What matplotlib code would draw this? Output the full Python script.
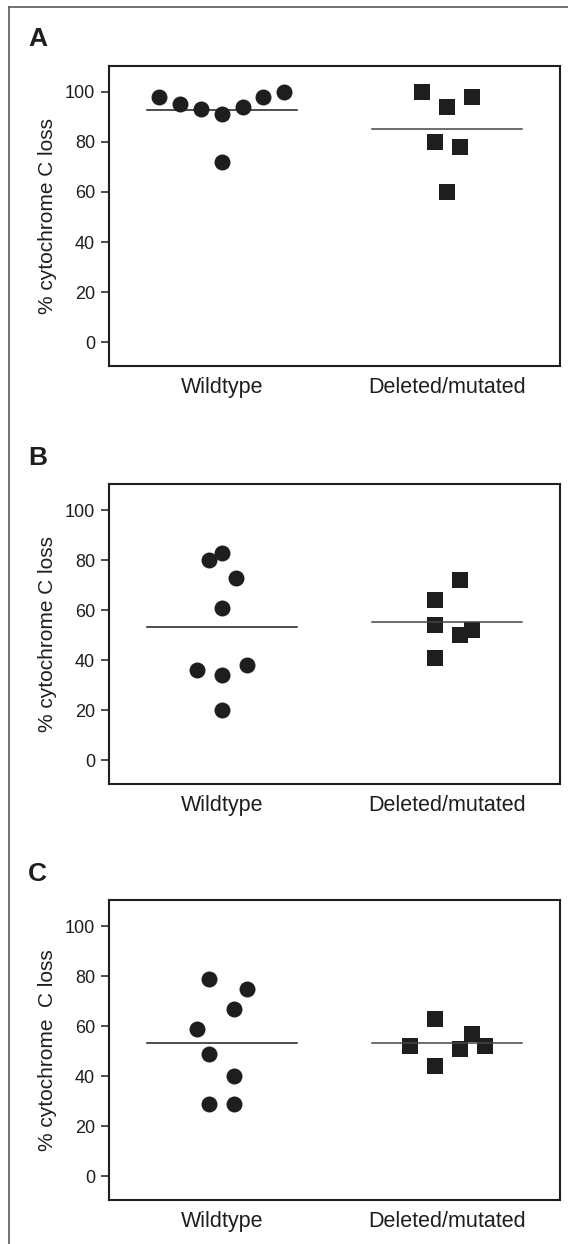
import numpy as np
import matplotlib
matplotlib.use("Agg")
import matplotlib.pyplot as plt
from matplotlib.lines import Line2D

# ============================================================ #
# Data (% cytochrome C loss)
# ============================================================ #
categories = ["Wildtype", "Deleted/mutated"]
panel_labels = ["A", "B", "C"]
y_labels = ["% cytochrome C loss", "% cytochrome C loss", "% cytochrome  C loss"]
y_ticks = [0, 20, 40, 60, 80, 100]

wildtype_a = [98, 95, 93, 91, 94, 98, 100, 72]
deleted_a = [100, 94, 98, 80, 78, 60]
wildtype_b = [80, 83, 73, 61, 36, 34, 38, 20]
deleted_b = [72, 64, 54, 50, 52, 41]
wildtype_c = [79, 75, 67, 59, 49, 40, 29, 29]
deleted_c = [63, 52, 57, 51, 52, 44]

# horizontal scatter slots (layout only, in units of SLOT)
SLOT = 0.0555
jitter_wt_a = [-5, -3.33, -1.67, 0, 1.67, 3.33, 5, 0]
jitter_del_a = [-2, 0, 2, -1, 1, 0]
jitter_wt_b = [-1, 0, 1.1, 0, -2, 0, 2, 0]
jitter_del_b = [1, -1, -1, 1, 2, -1]
jitter_wt_c = [-1, 2, 1, -2, -1, 1, -1, 1]
jitter_del_c = [-1, -3, 2, 1, 3, -1]

panels = [
    (wildtype_a, deleted_a, jitter_wt_a, jitter_del_a),
    (wildtype_b, deleted_b, jitter_wt_b, jitter_del_b),
    (wildtype_c, deleted_c, jitter_wt_c, jitter_del_c),
]

# ============================================================ #
# Figure layout (pixel geometry of the reference)
# ============================================================ #
W, H = 568, 1244
fig = plt.figure(figsize=(W / 100, H / 100), dpi=100)
plt.rcParams["font.family"] = ["Liberation Sans", "DejaVu Sans"]

INK = "#1e1e1e"
left, right = 109, 560
tops = [65.5, 484, 900]
bottoms = [366, 784, 1200]

# outer frame: only top and left edges are visible
fig.add_artist(Line2D([9 / W, 1], [1 - 7 / H, 1 - 7 / H], color="#5a5a5a", lw=1.2))
fig.add_artist(Line2D([9 / W, 9 / W], [0, 1 - 7 / H], color="#5a5a5a", lw=1.2))

for i, (wt, dm, jw, jd) in enumerate(panels):
    ax = fig.add_axes([left / W, 1 - bottoms[i] / H, (right - left) / W, (bottoms[i] - tops[i]) / H])

    # wildtype: circles, mean line underneath
    xw = 1 + np.array(jw) * SLOT
    ax.plot([1 - 0.333, 1 + 0.333], [np.mean(wt)] * 2, color=INK, lw=1.1, zorder=2)
    ax.plot(xw, wt, "o", ms=11.5, color=INK, mew=0, zorder=3)

    # deleted/mutated: squares, mean line drawn over
    xd = 2 + np.array(jd) * SLOT
    ax.plot(xd, dm, "s", ms=11.5, color=INK, mew=0, zorder=3)
    ax.plot([2 - 0.333, 2 + 0.333], [np.mean(dm)] * 2, color="#444444", lw=1.1, zorder=4)

    ax.set_xlim(0.5, 2.5)
    ax.set_ylim(-9.5, 110.5)
    ax.set_yticks(y_ticks)
    ax.set_xticks([1, 2])
    ax.set_xticklabels(categories, fontsize=15.5, color=INK)
    ax.tick_params(axis="x", length=0, pad=8)
    ax.tick_params(axis="y", length=6, width=1.1, color=INK, labelsize=13, labelcolor=INK, pad=4)
    for s in ax.spines.values():
        s.set_linewidth(1.5)
        s.set_color(INK)
    ax.set_ylabel(y_labels[i], fontsize=15, color=INK, labelpad=6)

    fig.text(28 / W, 1 - (tops[i] - 19) / H, panel_labels[i], fontsize=19,
             fontweight="bold", color=INK, va="baseline", ha="left")

fig.savefig("out.png", dpi=100)
